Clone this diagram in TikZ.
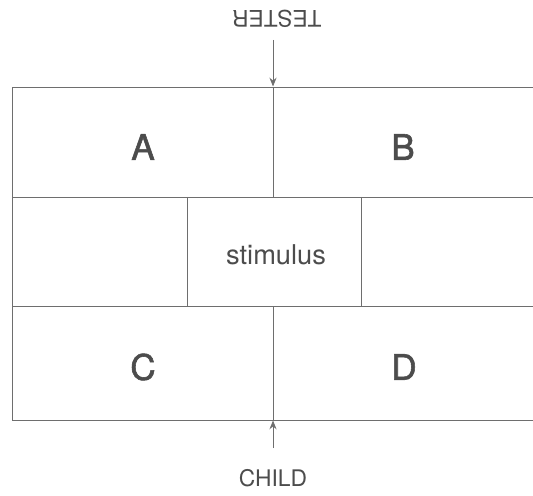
\documentclass[tikz,border=0pt]{standalone}
\usepackage{fontspec}
\usetikzlibrary{arrows.meta}
\setmainfont{TeX Gyre Heros}
\newfontfamily\cellfont[BoldFont={TeX Gyre Heros}, BoldFeatures={FakeBold=1.6}]{TeX Gyre Heros}
\definecolor{ink}{HTML}{4C4C4C}
\definecolor{rule}{HTML}{6E6E6E}
\begin{document}
\begin{tikzpicture}[>={Stealth[length=5pt,width=4pt]}, scale=1, line width=0.5pt]
				\useasboundingbox (0,0) rectangle (10.66,9.9);
				\tikzset{cell/.style={text=ink, font=\cellfont\fontsize{20}{24}\selectfont\bfseries},
					side/.style={text=ink, font=\fontsize{13}{15}\selectfont}}
				\draw[rule] (10.66,8.16) -- (0.25,8.16) -- (0.25,1.5) -- (10.66,1.5);
				\draw[rule] (0.25,5.96) -- (10.66,5.96);
				\draw[rule] (0.25,3.78) -- (10.66,3.78);
				\draw[rule] (5.46,8.16) -- (5.46,5.96);
				\draw[rule] (5.46,3.78) -- (5.46,1.5);
				\draw[rule] (3.74,5.96) -- (3.74,3.78);
				\draw[rule] (7.22,5.96) -- (7.22,3.78);
				\node[cell] (a) at (2.86, 6.96) {A};
				\node[cell] (b) at (8.06, 6.96) {B};
				\node[side, font=\fontsize{15.5}{18}\selectfont] (stim) at (5.52, 4.8) {stimulus};
				\node[cell] (c) at (2.86, 2.56) {C};
				\node[cell] (d) at (8.08, 2.56) {D};
				\node[side, rotate=180] (tester) at (5.54, 9.52) {TESTER};
				\node[side] (child) at (5.46, 0.34) {CHILD};
				\coordinate (top) at (5.46, 8.17);
				\coordinate (bot) at (5.46, 1.49);
				\draw[rule, ->] (5.46, 9.1) -- (top);
				\draw[rule, ->] (5.46, 0.94) -- (bot);
			\end{tikzpicture}
\end{document}
